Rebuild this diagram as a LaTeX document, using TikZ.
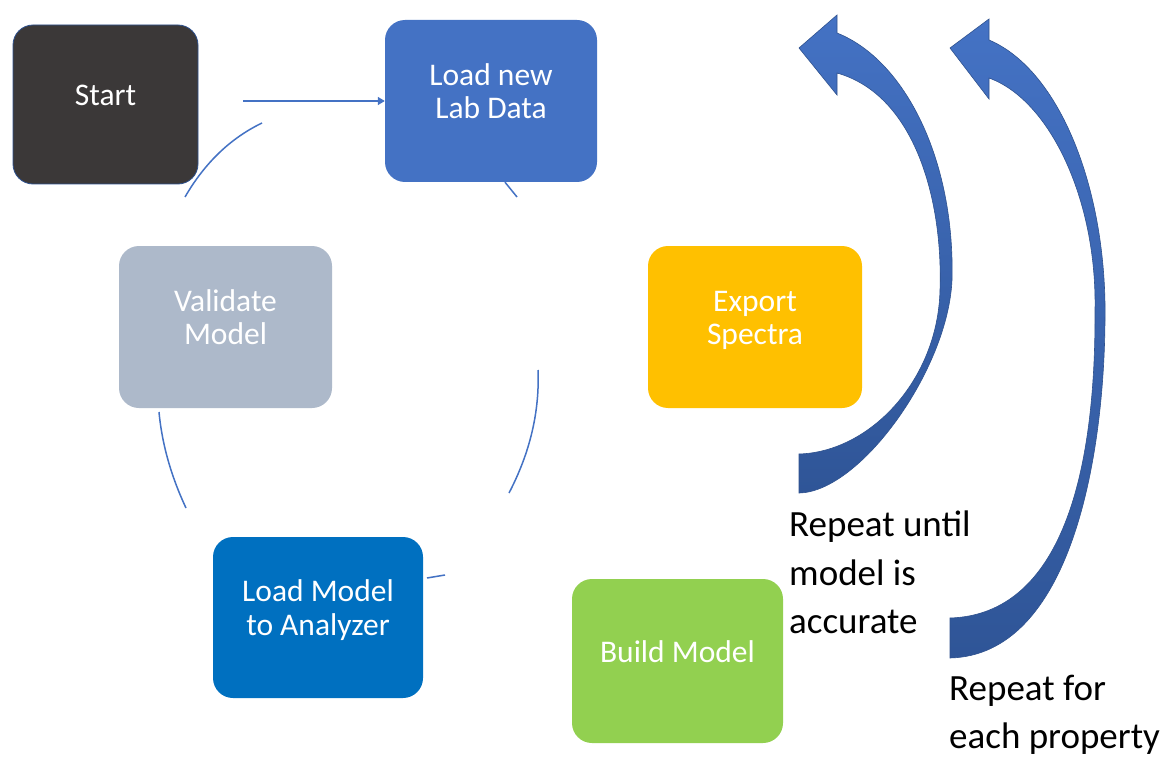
\documentclass[tikz,border=0pt]{standalone}
\usepackage{fontspec}
\setmainfont{Carlito}
\usetikzlibrary{arrows.meta}
\definecolor{cStart}{HTML}{3B3838}
\definecolor{cStartEdge}{HTML}{2F528F}
\definecolor{cLoad}{HTML}{4472C4}
\definecolor{cExport}{HTML}{FFC000}
\definecolor{cBuild}{HTML}{92D050}
\definecolor{cLM}{HTML}{0070C0}
\definecolor{cVal}{HTML}{ADB9CA}
\definecolor{cLine}{HTML}{4472C4}
\definecolor{cArrTop}{HTML}{4472C4}
\definecolor{cArrBot}{HTML}{2F5597}
\definecolor{cArrEdge}{HTML}{2F528F}
\begin{document}
\begin{tikzpicture}[x=1pt,y=-1pt,
  box/.style={rounded corners=20pt, inner sep=0pt, draw=none},
  boxtext/.style={text=white, align=center, inner sep=0pt, font=\fontsize{31.5}{33.5}\selectfont},
  note/.style={text=black, align=left, inner sep=0pt, anchor=north west, font=\fontsize{37}{48.5}\selectfont},
  cyc/.style={draw=cLine, line width=1.5pt},
  bigarrow/.style={top color=cArrTop, bottom color=cArrBot, draw=cArrEdge, line width=0.6pt}]
\useasboundingbox (0,0) rectangle (1173,757);
\fill[white] (0,0) rectangle (1173,757);

% boxes
\node[box, fill=cStart, draw=cStartEdge, line width=0.8pt, minimum width=185pt, minimum height=159pt] (start) at (105.5,104.5) {};
\node[box, fill=cLoad, minimum width=212pt, minimum height=162pt] (load) at (491,101) {};
\node[box, fill=cExport, minimum width=214pt, minimum height=162pt] (export) at (755,327) {};
\node[box, fill=cBuild, minimum width=211pt, minimum height=164pt] (build) at (677.5,661) {};
\node[box, fill=cLM, minimum width=210pt, minimum height=161pt] (lm) at (318,617.5) {};
\node[box, fill=cVal, minimum width=213pt, minimum height=162pt] (val) at (225.5,327) {};

% texts
\node[boxtext] (start-t) at ([yshift=5.5pt]start.center) {\strut Start};
\node[boxtext] (load-t) at ([yshift=5.5pt]load.center) {\strut Load new\\\strut Lab Data};
\node[boxtext] (export-t) at ([yshift=5.5pt]export.center) {\strut Export\\\strut Spectra};
\node[boxtext] (build-t) at ([yshift=5.5pt]build.center) {\strut Build Model};
\node[boxtext] (lm-t) at ([yshift=5.5pt]lm.center) {\strut Load Model\\\strut to Analyzer};
\node[boxtext] (val-t) at ([yshift=5.5pt]val.center) {\strut Validate\\\strut Model};

% cycle connectors
\coordinate (sa) at (243,101);
\draw[cyc, -{Triangle[length=7pt,width=8pt]}] (sa) -- (load.west);
\coordinate (c1a) at (262,123);
\coordinate (c1b) at (185,197);
\draw[cyc] (c1a) .. controls (230.3,138.3) and (204.7,163) .. (c1b);
\coordinate (c2b) at (517,197);
\draw[cyc] ([xshift=14pt]load.south) -- (c2b);
\coordinate (c3a) at (538,370);
\coordinate (c3b) at (509,493);
\draw[cyc] (c3a) .. controls (539.7,411.7) and (530,452.7) .. (c3b);
\coordinate (c4a) at (427,578);
\coordinate (c4b) at (445,575);
\draw[cyc] (c4a) -- (c4b);
\coordinate (c5a) at (159,412);
\coordinate (c5b) at (186,508);
\draw[cyc] (c5a) .. controls (162,444) and (171,476) .. (c5b);

% big curved arrows
\path[bigarrow] (799,48) -- (837,15) -- (837,33)
  .. controls (905,60) and (955,160) .. (952,280)
  .. controls (948,370) and (860,492) .. (799,493)
  -- (799,454)
  .. controls (870,452) and (938,380) .. (940,290)
  .. controls (943,200) and (915,95) .. (837,73)
  -- (837,95) -- cycle;
\path[bigarrow] (950,48) -- (989,19) -- (989,40)
  .. controls (1060,70) and (1107,190) .. (1105,320)
  .. controls (1104,460) and (1070,655) .. (950,658)
  -- (950,618)
  .. controls (1050,615) and (1096,500) .. (1095,310)
  .. controls (1097,200) and (1050,100) .. (989,78)
  -- (989,99) -- cycle;

% notes
\node[note] (lab1) at (789,502.8) {\strut Repeat until\\model is\\accurate};
\node[note] (lab2) at (949,666) {\strut Repeat for\\each property};
\end{tikzpicture}
\end{document}
